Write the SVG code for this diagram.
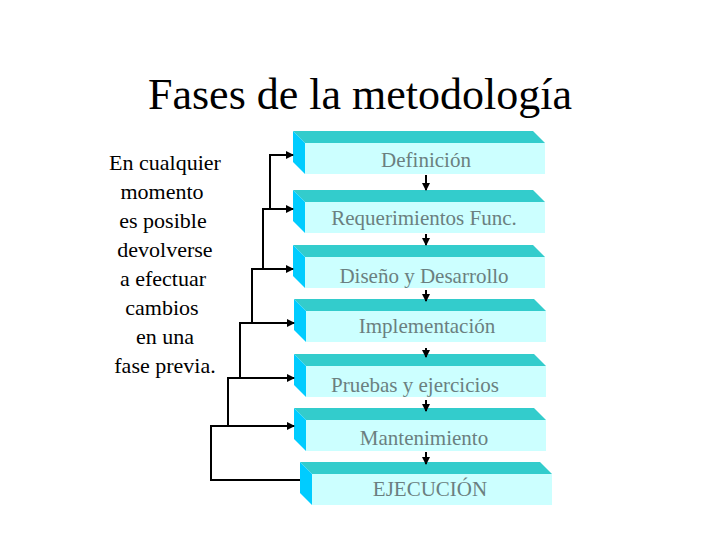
<svg xmlns="http://www.w3.org/2000/svg" width="720" height="540" viewBox="0 0 720 540">
<style>
.t{fill:#33cccc}.l{fill:#00ccff}.f{fill:#ccffff}
text{font-family:'Liberation Serif','Times New Roman',serif}
.lb{font-size:21px;fill:#6b7f80;text-anchor:middle}
.k{font-size:22px;fill:#000;text-anchor:middle}
.c{fill:none;stroke:#000;stroke-width:2}
</style>
<defs>
<marker id="a" markerWidth="8" markerHeight="8" refX="7" refY="4" orient="auto" markerUnits="userSpaceOnUse"><path d="M0,0L8,4L0,8z" fill="#000"/></marker>
<g id="slab"><path class="t" d="M0,0H240L252,12H12z"/><path class="l" d="M0,0L12,12V43L0,31z"/><rect class="f" x="12" y="12" width="240" height="31"/></g>
</defs>
<rect width="720" height="540" fill="#fff"/>
<text x="360" y="109" font-size="44" text-anchor="middle">Fases de la metodología</text>
<g id="nota">
<text class="k" x="165" y="170">En cualquier</text>
<text class="k" x="162" y="199">momento</text>
<text class="k" x="163" y="228">es posible</text>
<text class="k" x="165" y="257">devolverse</text>
<text class="k" x="163" y="286">a efectuar</text>
<text class="k" x="162" y="315">cambios</text>
<text class="k" x="165" y="344">en una</text>
<text class="k" x="165" y="373">fase previa.</text>
</g>
<g id="n1"><use href="#slab" x="293" y="131"/><text class="lb" x="426" y="167">Definición</text></g>
<g id="n2"><use href="#slab" x="293" y="190"/><text class="lb" x="424" y="225">Requerimientos Func.</text></g>
<g id="n3"><use href="#slab" x="293" y="245"/><text class="lb" x="424" y="283">Diseño y Desarrollo</text></g>
<g id="n4"><use href="#slab" x="294" y="299"/><text class="lb" x="427" y="333">Implementación</text></g>
<g id="n5"><use href="#slab" x="294" y="354"/><text class="lb" x="415" y="392">Pruebas y ejercicios</text></g>
<g id="n6"><use href="#slab" x="294" y="408"/><text class="lb" x="424" y="445">Mantenimiento</text></g>
<g id="n7"><use href="#slab" x="300" y="462"/><text class="lb" x="430" y="496">EJECUCIÓN</text></g>
<g id="connectors">
<path class="c" d="M426,175V190" marker-end="url(#a)"/>
<path class="c" d="M426,234V245" marker-end="url(#a)"/>
<path class="c" d="M426,290V301" marker-end="url(#a)"/>
<path class="c" d="M426,348V357" marker-end="url(#a)"/>
<path class="c" d="M426,400V411" marker-end="url(#a)"/>
<path class="c" d="M426,452V464" marker-end="url(#a)"/>
<path class="c" d="M270,209V155H293" marker-end="url(#a)"/>
<path class="c" d="M263,269V209H293" marker-end="url(#a)"/>
<path class="c" d="M252,323V269H293" marker-end="url(#a)"/>
<path class="c" d="M240,378V323H294" marker-end="url(#a)"/>
<path class="c" d="M228,426V378H294" marker-end="url(#a)"/>
<path class="c" d="M300,480H211V426H294" marker-end="url(#a)"/>
</g>
</svg>
